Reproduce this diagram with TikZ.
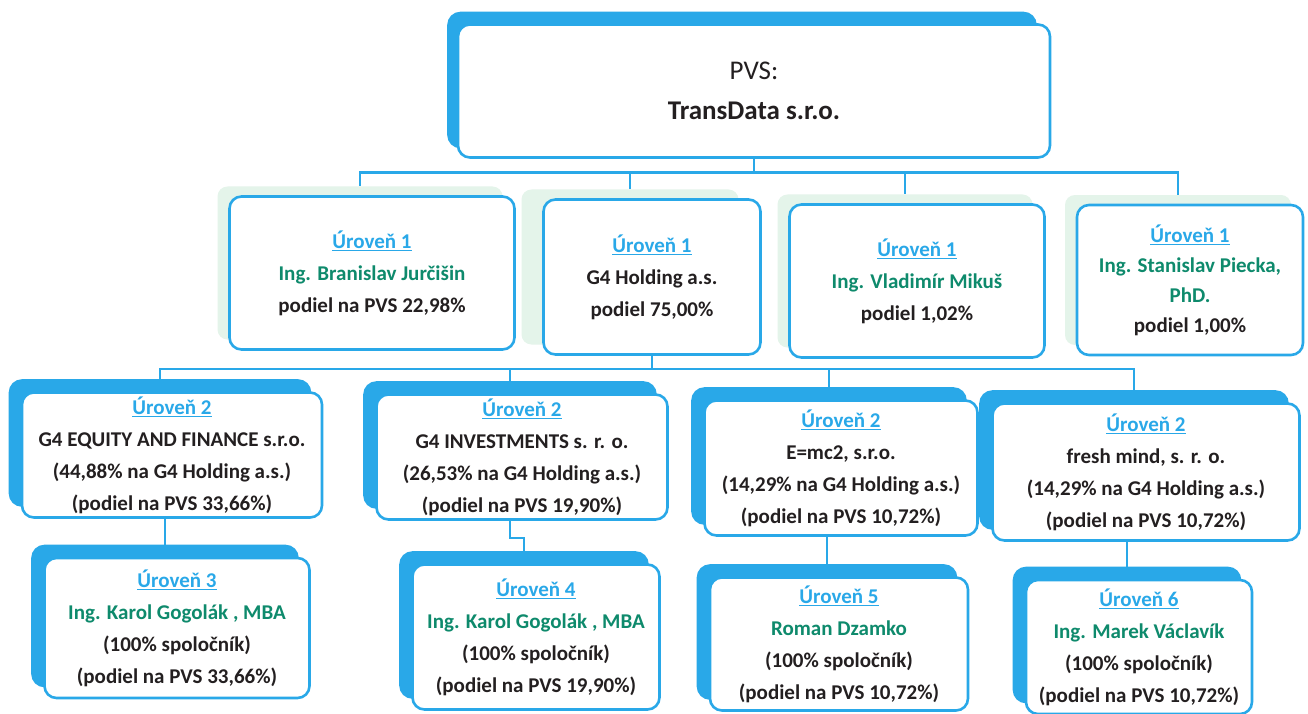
\documentclass[tikz,border=0pt]{standalone}
\usepackage{fontspec}
\setmainfont{Carlito}
\usepackage{xcolor}
\usepackage{tikz}

\definecolor{lvblue}{RGB}{41,168,232}
\definecolor{namegreen}{RGB}{14,138,108}
\definecolor{txtdark}{RGB}{35,31,32}
\definecolor{glowgreen}{RGB}{228,244,234}

\newcommand{\lvl}[1]{\textcolor{lvblue}{\underline{Úroveň #1}}}
\newcommand{\who}[1]{\textcolor{namegreen}{#1}}

\tikzset{
  front/.style={draw=lvblue, line width=2.6pt, rounded corners=12pt, fill=white, align=center, text=txtdark, font=\bfseries\fontsize{21}{32}\selectfont},
  back/.style={draw=lvblue, fill=lvblue, line width=2.6pt, rounded corners=12pt},
  glow/.style={fill=glowgreen, rounded corners=10pt},
  link/.style={draw=lvblue, line width=2.6pt},
}

\begin{document}
\begin{tikzpicture}[x=1pt,y=1pt,yscale=-1,xscale=1]
            \useasboundingbox[fill=white] (0,0) rectangle (1308,714);

            \node[back] (topb) at (742,80) [minimum width=587, minimum height=134] {};
            \node[glow] (b1s) at (360,263) [minimum width=285, minimum height=153] {};
            \node[glow] (b2s) at (630,267) [minimum width=217, minimum height=155] {};
            \node[glow] (b3s) at (905,271) [minimum width=255, minimum height=153] {};
            \node[glow] (b4s) at (1178,270) [minimum width=226, minimum height=150] {};
            \node[back] (c1b) at (160,443) [minimum width=300, minimum height=125] {};
            \node[back] (c2b) at (510,445) [minimum width=291, minimum height=125] {};
            \node[back] (c3b) at (829,456) [minimum width=273, minimum height=135] {};
            \node[back] (c4b) at (1134,460) [minimum width=307, minimum height=137] {};
            \node[back] (d1b) at (165,616) [minimum width=265, minimum height=140] {};
            \node[back] (d2b) at (524,625) [minimum width=247, minimum height=145] {};
            \node[back] (d3b) at (827,632) [minimum width=258, minimum height=133] {};
            \node[back] (d4b) at (1127,635) [minimum width=226, minimum height=134] {};

            \node[front, font=\bfseries\fontsize{27}{40}\selectfont] (top) at (754,91) [minimum width=592, minimum height=133] {{\mdseries PVS:}\\TransData s.r.o.};

            \node[front] (b1) at (372,273) [minimum width=285, minimum height=153] {\lvl{1}\\\who{Ing. Branislav Jurčišin}\\podiel na PVS 22,98\%};
            \node[front] (b2) at (652,277) [minimum width=217, minimum height=155] {\lvl{1}\\G4 Holding a.s.\\podiel 75,00\%};
            \node[front] (b3) at (917,281) [minimum width=255, minimum height=153] {\lvl{1}\\\who{Ing. Vladimír Mikuš}\\podiel 1,02\%};
            \node[front, font=\bfseries\fontsize{21}{30}\selectfont] (b4) at (1190,280) [minimum width=226, minimum height=150] {\lvl{1}\\\who{Ing. Stanislav Piecka,}\\\who{PhD.}\\podiel 1,00\%};

            \node[front] (c1) at (172,455) [minimum width=300, minimum height=125] {\lvl{2}\\G4 EQUITY AND FINANCE s.r.o.\\(44,88\% na G4 Holding a.s.)\\(podiel na PVS 33,66\%)};
            \node[front] (c2) at (522,457) [minimum width=291, minimum height=125] {\lvl{2}\\G4 INVESTMENTS s. r. o.\\(26,53\% na G4 Holding a.s.)\\(podiel na PVS 19,90\%)};
            \node[front] (c3) at (841,468) [minimum width=273, minimum height=135] {\lvl{2}\\E=mc2, s.r.o.\\(14,29\% na G4 Holding a.s.)\\(podiel na PVS 10,72\%)};
            \node[front] (c4) at (1146,472) [minimum width=307, minimum height=137] {\lvl{2}\\fresh mind, s. r. o.\\(14,29\% na G4 Holding a.s.)\\(podiel na PVS 10,72\%)};

            \node[front] (d1) at (177,628) [minimum width=265, minimum height=140] {\lvl{3}\\\who{Ing. Karol Gogolák , MBA}\\(100\% spoločník)\\(podiel na PVS 33,66\%)};
            \node[front] (d2) at (536,637) [minimum width=247, minimum height=145] {\lvl{4}\\\who{Ing. Karol Gogolák , MBA}\\(100\% spoločník)\\(podiel na PVS 19,90\%)};
            \node[front] (d3) at (839,644) [minimum width=258, minimum height=133] {\lvl{5}\\\who{Roman Dzamko}\\(100\% spoločník)\\(podiel na PVS 10,72\%)};
            \node[front] (d4) at (1139,647) [minimum width=226, minimum height=134] {\lvl{6}\\\who{Ing. Marek Václavík}\\(100\% spoločník)\\(podiel na PVS 10,72\%)};

            \foreach \n in {b1s,b2s,b3s,b4s}
              \draw[link] (top.south) -- ++(0,14) -| (\n.north);
            \foreach \n in {c1b,c2b,c3b,c4b}
              \draw[link] (b2.south) -- ++(0,13) -| (\n.north);
            \draw[link] (c1.south -| d1b.north) -- (d1b.north);
            \draw[link] (c2.south -| c2b.north) -- ++(0,17) -| (d2b.north);
            \draw[link] (c3.south -| d3b.north) -- (d3b.north);
            \draw[link] (c4.south -| d4b.north) -- (d4b.north);
        \end{tikzpicture}
\end{document}
